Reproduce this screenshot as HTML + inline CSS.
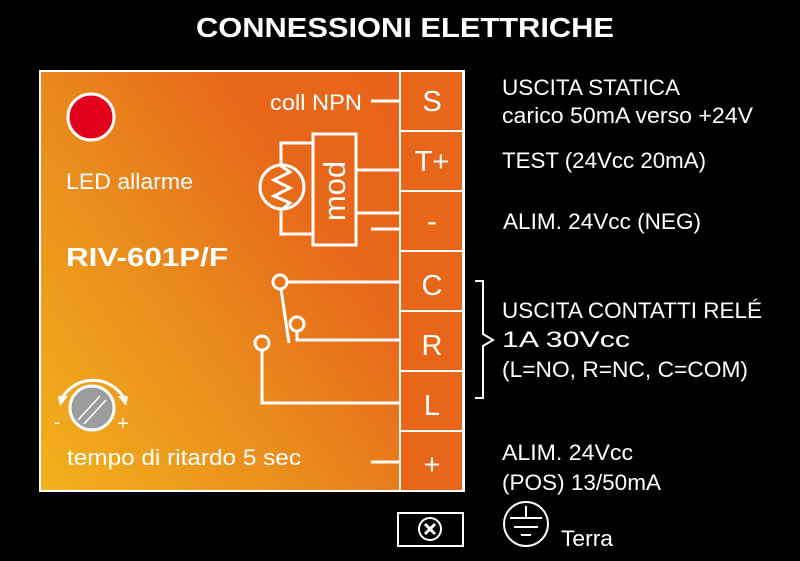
<!DOCTYPE html>
<html><head><meta charset="utf-8"><style>
html,body{margin:0;padding:0;background:#000;}
svg{display:block;}
text{font-family:"Liberation Sans",Arial,sans-serif;fill:#fff;}
</style></head><body>
<svg width="800" height="561" viewBox="0 0 800 561" xmlns="http://www.w3.org/2000/svg">
<defs>
<linearGradient id="g" x1="0" y1="1" x2="1" y2="0.3">
<stop offset="0" stop-color="#f2b21c"/>
<stop offset="0.45" stop-color="#e98a1c"/>
<stop offset="0.75" stop-color="#e8681a"/>
<stop offset="1" stop-color="#e8641a"/>
</linearGradient>
</defs>
<rect width="800" height="561" fill="#000"/>
<text x="405" y="37" font-size="28" font-weight="bold" text-anchor="middle" textLength="418" lengthAdjust="spacingAndGlyphs">CONNESSIONI ELETTRICHE</text>
<rect x="40" y="71" width="424" height="420" fill="url(#g)" stroke="#fff" stroke-width="2"/>
<g fill="#e8661a" stroke="#fff" stroke-width="2">
<rect x="400" y="71" width="63" height="60"/>
<rect x="400" y="131" width="63" height="60"/>
<rect x="400" y="191" width="63" height="60"/>
<rect x="400" y="251" width="63" height="60"/>
<rect x="400" y="311" width="63" height="60"/>
<rect x="400" y="371" width="63" height="60"/>
<rect x="400" y="431" width="63" height="60"/>
</g>
<g font-size="29" text-anchor="middle">
<text x="432" y="111">S</text>
<text x="432" y="171">T+</text>
<text x="432" y="231">-</text>
<text x="432" y="295">C</text>
<text x="432" y="355">R</text>
<text x="432" y="415">L</text>
<text x="432" y="474">+</text>
</g>
<circle cx="91" cy="117" r="23" fill="#e2001a" stroke="#fff" stroke-width="3"/>
<text x="66" y="189" font-size="22" textLength="127" lengthAdjust="spacingAndGlyphs">LED allarme</text>
<text x="66" y="266" font-size="26" font-weight="bold" textLength="162" lengthAdjust="spacingAndGlyphs">RIV-601P/F</text>
<text x="270" y="110" font-size="22" textLength="92" lengthAdjust="spacingAndGlyphs">coll NPN</text>
<text x="67" y="465" font-size="22" textLength="234" lengthAdjust="spacingAndGlyphs">tempo di ritardo 5 sec</text>
<text transform="translate(345,191) rotate(-90)" font-size="31" text-anchor="middle">mod</text>
<g stroke="#fff" stroke-width="3" fill="none">
<line x1="371" y1="101" x2="400" y2="101"/>
<rect x="313" y="134" width="43" height="111"/>
<polyline points="313,143 281,143 281,166"/>
<polyline points="281,210 281,234 313,234"/>
<circle cx="282" cy="187" r="22"/>
<polyline points="281,166 290,172 274,180 290,188 274,196 290,203 281,210"/>
<line x1="356" y1="170" x2="400" y2="170"/>
<line x1="356" y1="213" x2="400" y2="213"/>
<line x1="371" y1="229" x2="400" y2="229"/>
<circle cx="280" cy="282" r="7"/>
<line x1="287" y1="282" x2="400" y2="282"/>
<line x1="281" y1="289" x2="289" y2="343"/>
<circle cx="297" cy="324" r="7"/>
<polyline points="297,331 297,340 400,340"/>
<circle cx="262" cy="343" r="7"/>
<polyline points="262,350 262,403 400,403"/>
<line x1="371" y1="462" x2="400" y2="462"/>
<path d="M62,398 A36,36 0 0 1 124,398"/>
</g>
<g fill="#fff"><polygon points="58,396 68,396 60,406"/><polygon points="118,396 128,396 126,406"/></g>
<circle cx="92" cy="408" r="22" fill="#9c9c9c" stroke="#fff" stroke-width="3"/>
<g stroke="#fff" stroke-width="1.5"><line x1="78" y1="420" x2="100" y2="396"/><line x1="84" y1="424" x2="106" y2="400"/></g>
<text x="54" y="428" font-size="18">-</text>
<text x="117" y="430" font-size="20">+</text>
<rect x="398" y="513" width="65" height="33" fill="none" stroke="#fff" stroke-width="2"/>
<circle cx="430" cy="529" r="11" fill="none" stroke="#fff" stroke-width="2"/>
<g stroke="#fff" stroke-width="3"><line x1="425" y1="524" x2="435" y2="534"/><line x1="435" y1="524" x2="425" y2="534"/></g>
<polyline points="475,281 483,281 483,334 493,340 483,346 483,398 475,398" fill="none" stroke="#fff" stroke-width="2"/>
<circle cx="526" cy="524" r="22" fill="none" stroke="#fff" stroke-width="2"/>
<g stroke="#fff" stroke-width="2"><line x1="526" y1="506" x2="526" y2="518"/><line x1="510" y1="518" x2="542" y2="518"/><line x1="514" y1="527" x2="538" y2="527"/><line x1="521" y1="535" x2="531" y2="535"/></g>
<g font-size="22">
<text x="502" y="95" textLength="178" lengthAdjust="spacingAndGlyphs">USCITA STATICA</text>
<text x="502" y="123" textLength="251" lengthAdjust="spacingAndGlyphs">carico 50mA verso +24V</text>
<text x="502" y="168" textLength="204" lengthAdjust="spacingAndGlyphs">TEST (24Vcc 20mA)</text>
<text x="503" y="229" textLength="198" lengthAdjust="spacingAndGlyphs">ALIM. 24Vcc (NEG)</text>
<text x="502" y="318" textLength="260" lengthAdjust="spacingAndGlyphs">USCITA CONTATTI RELÉ</text>
<text x="502" y="347" textLength="128" lengthAdjust="spacingAndGlyphs">1A 30Vcc</text>
<text x="502" y="377" textLength="246" lengthAdjust="spacingAndGlyphs">(L=NO, R=NC, C=COM)</text>
<text x="502" y="460" textLength="131" lengthAdjust="spacingAndGlyphs">ALIM. 24Vcc</text>
<text x="502" y="490" textLength="159" lengthAdjust="spacingAndGlyphs">(POS) 13/50mA</text>
<text x="561" y="546" textLength="52" lengthAdjust="spacingAndGlyphs">Terra</text>
</g>
</svg>
</body></html>
